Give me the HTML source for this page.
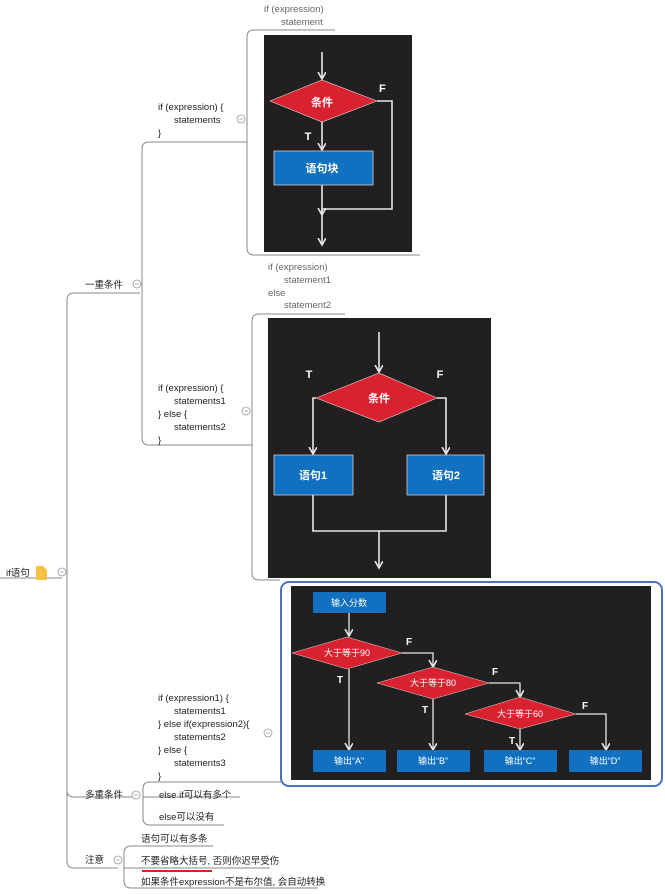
<!DOCTYPE html>
<html><head><meta charset="utf-8"><style>
html,body{margin:0;padding:0;background:#fff;width:665px;height:894px;overflow:hidden}
svg text{font-family:"Liberation Sans","Noto Sans CJK SC",sans-serif}
</style></head><body>
<svg width="665" height="894" viewBox="0 0 665 894" xmlns="http://www.w3.org/2000/svg">
<defs>
<marker id="a" markerWidth="10" markerHeight="10" refX="7" refY="4" orient="auto" markerUnits="userSpaceOnUse"><path d="M0,0 L7,4 L0,8" fill="none" stroke="#e8e8e8" stroke-width="1.6"/></marker>
</defs>
<g fill="none" stroke="#888" stroke-width="1">
<path d="M0,578 H62"/>
<path d="M67,578 V300 Q67,293 74,293 H140"/>
<path d="M67,578 V790 Q67,797 74,797 H140"/>
<path d="M67,578 V861 Q67,868 74,868 H118"/>
<path d="M142,293 V149 Q142,142 149,142 H247"/>
<path d="M142,293 V438 Q142,445 149,445 H252"/>
<path d="M247,142 V37 Q247,30 254,30 H335"/>
<path d="M247,142 V248 Q247,255 254,255 H420"/>
<path d="M252,445 V321 Q252,314 259,314 H345"/>
<path d="M252,445 V573 Q252,580 259,580 H280"/>
<path d="M143,797 V789 Q143,782 150,782 H290"/>
<path d="M143,797 H240"/>
<path d="M143,797 V818 Q143,825 150,825 H224"/>
<path d="M124,868 V853 Q124,846 131,846 H213"/>
<path d="M124,868 H270"/>
<path d="M124,868 V881 Q124,888 131,888 H318"/>
</g>
<path d="M142,871 H212" stroke="#e02020" stroke-width="2"/>
<g fill="#fff" stroke="#999" stroke-width="0.8">
<circle cx="62" cy="572" r="4"/><circle cx="137" cy="284" r="4"/><circle cx="241" cy="119" r="4"/>
<circle cx="246" cy="411" r="4"/><circle cx="268" cy="733" r="4"/><circle cx="136" cy="795" r="4"/><circle cx="118" cy="860" r="4"/>
</g>
<g stroke="#999" stroke-width="0.8"><path d="M60,572h4M135,284h4M239,119h4M244,411h4M266,733h4M134,795h4M116,860h4"/></g>
<path d="M36,566 h7 l4,4 v10 h-11z" fill="#f5c242"/>
<g font-size="9.5" fill="#222">
<text x="6" y="576">if语句</text>
<text x="85" y="288">一重条件</text>
<text x="85" y="798">多重条件</text>
<text x="85" y="863">注意</text>
<text x="158" y="110">if (expression) {</text><text x="174" y="123">statements</text><text x="158" y="136">}</text>
<text x="158" y="391">if (expression) {</text><text x="174" y="404">statements1</text><text x="158" y="417">} else {</text><text x="174" y="430">statements2</text><text x="158" y="443">}</text>
<text x="158" y="701">if (expression1) {</text><text x="174" y="714">statements1</text><text x="158" y="727">} else if(expression2){</text><text x="174" y="740">statements2</text><text x="158" y="753">} else {</text><text x="174" y="766">statements3</text><text x="158" y="779">}</text>
<text x="159" y="798">else if可以有多个</text>
<text x="159" y="820">else可以没有</text>
<text x="141" y="842">语句可以有多条</text>
<text x="141" y="864">不要省略大括号, 否则你迟早受伤</text>
<text x="141" y="885">如果条件expression不是布尔值, 会自动转换</text>
</g>
<g font-size="9.5" fill="#666">
<text x="264" y="12">if (expression)</text><text x="281" y="25">statement</text>
<text x="268" y="270">if (expression)</text><text x="284" y="283">statement1</text><text x="268" y="296">else</text><text x="284" y="308">statement2</text>
</g>
<!-- image 1 -->
<rect x="264" y="35" width="148" height="217" fill="#221f20"/>
<g stroke="#e8e8e8" stroke-width="1.6" fill="none">
<path d="M322,52 V79" marker-end="url(#a)"/>
<path d="M322,122 V150" marker-end="url(#a)"/>
<path d="M377,101 H392 V209 H322"/>
<path d="M322,185 V215" marker-end="url(#a)"/>
<path d="M322,209 V245" marker-end="url(#a)"/>
</g>
<path d="M270,101 L322,80 L377,101 L322,122Z" fill="#d92230" stroke="#ddd" stroke-width="0.6"/>
<rect x="274" y="151" width="99" height="34" fill="#1170c0" stroke="#ccc" stroke-width="0.8"/>
<g font-weight="bold" fill="#fff" font-size="11" text-anchor="middle">
<text x="322" y="106">条件</text><text x="322" y="172">语句块</text>
<text x="379" y="92" text-anchor="start">F</text><text x="308" y="140">T</text>
</g>
<!-- image 2 -->
<rect x="268" y="318" width="223" height="260" fill="#221f20"/>
<g stroke="#e8e8e8" stroke-width="1.6" fill="none">
<path d="M379,332 V372" marker-end="url(#a)"/>
<path d="M316,398 H313 V454" marker-end="url(#a)"/>
<path d="M437,398 H446 V454" marker-end="url(#a)"/>
<path d="M313,495 V531 H446 V495"/>
<path d="M379,531 V568" marker-end="url(#a)"/>
</g>
<path d="M316,398 L379,373 L437,398 L379,422Z" fill="#d92230" stroke="#ddd" stroke-width="0.6"/>
<rect x="274" y="455" width="79" height="40" fill="#1170c0" stroke="#ccc" stroke-width="0.8"/>
<rect x="407" y="455" width="77" height="40" fill="#1170c0" stroke="#ccc" stroke-width="0.8"/>
<g font-weight="bold" fill="#fff" font-size="11" text-anchor="middle">
<text x="379" y="402">条件</text><text x="313" y="479">语句1</text><text x="446" y="479">语句2</text>
<text x="309" y="378">T</text><text x="440" y="378">F</text>
</g>
<!-- image 3 -->
<rect x="281" y="582" width="381" height="204" rx="8" fill="#fff" stroke="#4a72c0" stroke-width="2"/>
<rect x="291" y="586" width="360" height="194" fill="#221f20"/>
<g stroke="#e8e8e8" stroke-width="1.3" fill="none">
<path d="M349,613 V636" marker-end="url(#a)"/>
<path d="M402,653 H433 V667" marker-end="url(#a)"/>
<path d="M489,683 H520 V697" marker-end="url(#a)"/>
<path d="M576,714 H606 V750" marker-end="url(#a)"/>
<path d="M349,669 V750" marker-end="url(#a)"/>
<path d="M433,699 V750" marker-end="url(#a)"/>
<path d="M520,729 V750" marker-end="url(#a)"/>
</g>
<rect x="313" y="592" width="73" height="21" fill="#1170c0"/>
<path d="M292,653 L347,637 L402,653 L347,669Z" fill="#d92230" stroke="#ddd" stroke-width="0.5"/>
<path d="M377,683 L433,667 L489,683 L433,699Z" fill="#d92230" stroke="#ddd" stroke-width="0.5"/>
<path d="M465,714 L520,697 L576,714 L520,729Z" fill="#d92230" stroke="#ddd" stroke-width="0.5"/>
<rect x="313" y="750" width="73" height="22" fill="#1170c0"/>
<rect x="397" y="750" width="73" height="22" fill="#1170c0"/>
<rect x="484" y="750" width="73" height="22" fill="#1170c0"/>
<rect x="569" y="750" width="73" height="22" fill="#1170c0"/>
<g fill="#fff" font-size="9" text-anchor="middle">
<text x="349" y="606">输入分数</text>
<text x="347" y="656">大于等于90</text><text x="433" y="686">大于等于80</text><text x="520" y="717">大于等于60</text>
<text x="349" y="764">输出“A”</text><text x="433" y="764">输出“B”</text><text x="520" y="764">输出“C”</text><text x="605" y="764">输出“D”</text>
</g>
<g fill="#fff" font-size="10" font-weight="bold">
<text x="406" y="645">F</text><text x="492" y="675">F</text><text x="582" y="709">F</text>
<text x="337" y="683">T</text><text x="422" y="713">T</text><text x="509" y="744">T</text>
</g>
</svg>
</body></html>
